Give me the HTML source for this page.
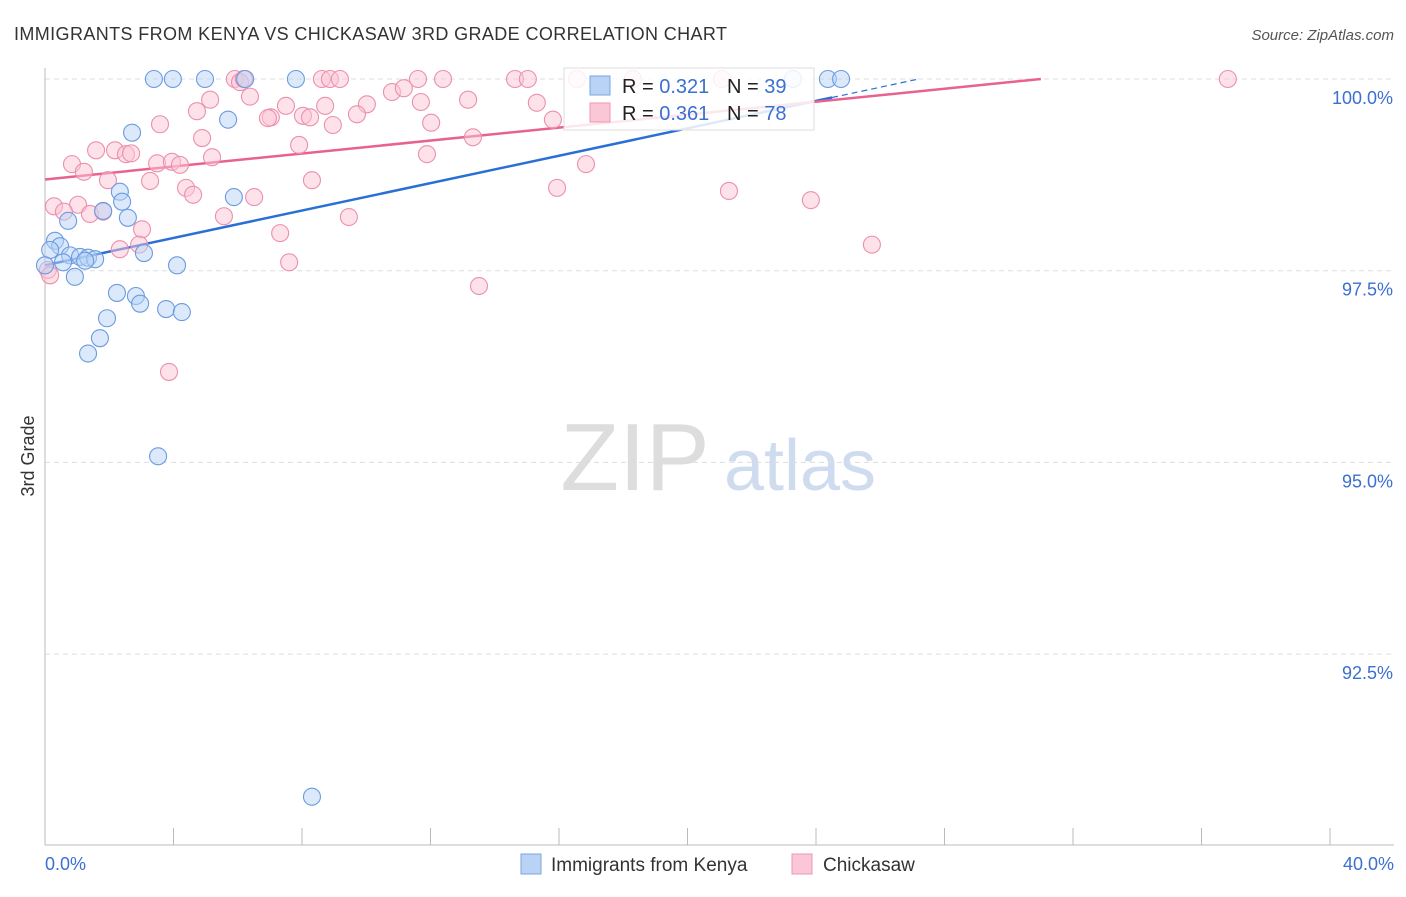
<!DOCTYPE html>
<html><head><meta charset="utf-8"><style>
body{margin:0;background:#fff;font-family:"Liberation Sans",sans-serif;}
svg text{font-family:"Liberation Sans",sans-serif;}
</style></head><body>
<svg id="chart" width="1406" height="892" xmlns="http://www.w3.org/2000/svg">
<text x="14" y="40" font-size="18" fill="#333" textLength="713">IMMIGRANTS FROM KENYA VS CHICKASAW 3RD GRADE CORRELATION CHART</text>
<text x="1394" y="40" font-size="15" fill="#555" font-style="italic" text-anchor="end">Source: ZipAtlas.com</text>
<text x="34" y="456" font-size="18" fill="#333" text-anchor="middle" transform="rotate(-90 34 456)">3rd Grade</text>
<g><text x="635" y="490" font-size="96" fill="#ddd" text-anchor="middle" font-family="Liberation Serif,serif">ZIP</text><text x="800" y="490" font-size="72" fill="#cfdcf0" text-anchor="middle">atlas</text></g>
<g id="grid"></g><g id="axes"></g><g id="lines"></g><g id="pts"></g>
<g>
<rect x="564" y="68" width="250" height="62" fill="#fff" fill-opacity="0.85" stroke="#ddd"/>
<rect x="590" y="76" width="20" height="19" fill="#b8d3f5" stroke="#7aa6e0"/>
<rect x="590" y="103" width="20" height="19" fill="#fbc6d6" stroke="#ee96b4"/>
<text x="622" y="93" font-size="20" fill="#222">R = <tspan fill="#3b6fd0">0.321</tspan></text>
<text x="727" y="93" font-size="20" fill="#222">N = <tspan fill="#3b6fd0">39</tspan></text>
<text x="622" y="120" font-size="20" fill="#222">R = <tspan fill="#3b6fd0">0.361</tspan></text>
<text x="727" y="120" font-size="20" fill="#222">N = <tspan fill="#3b6fd0">78</tspan></text>
</g>
<g>
<rect x="521" y="854" width="20" height="20" fill="#b8d3f5" stroke="#7aa6e0"/>
<text x="551" y="871" font-size="19" fill="#333">Immigrants from Kenya</text>
<rect x="792" y="854" width="20" height="20" fill="#fbc6d6" stroke="#ee96b4"/>
<text x="823" y="871" font-size="19" fill="#333">Chickasaw</text>
</g>
</svg>
<script>
const xTicks=[0,4,8,12,16,20,24,28,32,36,40];
const yTicks=[100,97.5,95,92.5];
const yTickLabels=["100.0%","97.5%","95.0%","92.5%"];
const kenyaX=[3.39,3.98,4.98,6.23,7.81,23.28,24.37,24.78,5.70,2.71,2.33,5.88,2.40,1.81,2.58,0.72,0.31,0.47,0.16,0.78,1.09,1.34,1.56,1.25,0.56,3.08,4.11,0.93,2.24,2.83,2.96,3.77,4.26,1.93,1.71,1.34,3.52,8.31,0];
const kenyaY=[100,100,100,100,100,100,100,100,99.47,99.30,98.53,98.46,98.40,98.28,98.19,98.15,97.89,97.82,97.77,97.70,97.68,97.67,97.65,97.63,97.61,97.73,97.57,97.42,97.21,97.17,97.07,97.00,96.96,96.88,96.62,96.42,95.08,90.64,97.57];
const chickX=[5.91,6.07,6.19,8.62,8.87,9.18,11.61,12.39,14.63,15.03,16.56,18.30,21.07,36.82,6.38,5.14,7.50,8.72,10.02,10.80,11.17,11.70,13.17,15.31,4.73,7.03,6.94,8.03,8.25,9.71,8.96,12.02,15.81,3.58,4.89,7.91,13.32,1.59,2.18,2.52,2.68,5.20,11.89,0.84,1.21,3.49,3.95,4.20,16.84,1.96,3.27,8.31,4.39,4.61,15.94,21.29,23.84,6.51,0.28,1.03,0.59,1.40,1.81,5.57,9.46,3.02,7.32,2.33,2.93,25.74,7.60,13.51,3.86,0.09,0.16];
const chickY=[100,99.96,100,100,100,100,100,100,100,100,100,100,100,100,99.77,99.73,99.65,99.65,99.67,99.83,99.88,99.70,99.73,99.69,99.58,99.50,99.49,99.52,99.50,99.54,99.40,99.43,99.47,99.41,99.23,99.14,99.24,99.07,99.07,99.02,99.03,98.98,99.02,98.89,98.79,98.90,98.92,98.88,98.89,98.68,98.67,98.68,98.58,98.49,98.58,98.54,98.42,98.46,98.34,98.36,98.27,98.24,98.27,98.21,98.20,98.04,97.99,97.78,97.84,97.84,97.61,97.30,96.18,97.51,97.44];
const kenyaTrend=[[0,97.57],[27.2,100]];
const chickTrend=[[0,98.69],[31,100]];
const X=v=>45+v/40*1285;
const Y=v=>79+(100-v)/2.5*191.7;
const NS="http://www.w3.org/2000/svg";
function mk(t,a,p){const e=document.createElementNS(NS,t);for(const k in a)e.setAttribute(k,a[k]);p.appendChild(e);return e;}
const grid=document.getElementById('grid'),axes=document.getElementById('axes'),lines=document.getElementById('lines'),pts=document.getElementById('pts');
yTicks.forEach((t,i)=>{
 const g=mk('line',{x1:45,x2:1394,y1:Y(t),y2:Y(t),stroke:'#ddd','stroke-dasharray':'5,4'},grid);
 
 
 const l=mk('text',{x:1393,y:Y(t)+25,'font-size':18,fill:'#3b6fd0','text-anchor':'end'},axes);
 l.textContent=yTickLabels[i];
 
 
});
const ax=mk('line',{x1:45,x2:1394,y1:845,y2:845,stroke:'#bbb'},axes);


const ay=mk('line',{x1:45,x2:45,y1:68,y2:845,stroke:'#bbb'},axes);


xTicks.forEach(t=>{
 const e=mk('line',{x1:X(t),x2:X(t),y1:828,y2:845,stroke:'#bbb'},axes);
 
 
});
[[0,'start'],[40,'end']].forEach(([t,a])=>{
 const l=mk('text',{x:t?1394:45,y:870,'font-size':18,fill:'#3b6fd0','text-anchor':a},axes);
 l.textContent=t.toFixed(1)+'%';
 
 
});
function dots(xs,ys,fill,stroke,name){xs.forEach((x,i)=>{
 const c=mk('circle',{cx:X(x),cy:Y(ys[i]),r:8.5,fill:fill,'fill-opacity':0.5,stroke:stroke,'stroke-width':1.1},pts);
 
 
});}
dots(chickX,chickY,'#fbc6d6','#ec8fae','chickasaw-point');
dots(kenyaX,kenyaY,'#b8d3f5','#6b9be0','kenya-point');
const kx=24.5;
const ky=kenyaTrend[0][1]+(kenyaTrend[1][1]-kenyaTrend[0][1])*kx/kenyaTrend[1][0];
const k1=mk('line',{x1:X(kenyaTrend[0][0]),y1:Y(kenyaTrend[0][1]),x2:X(kx),y2:Y(ky),stroke:'#2a6fd6','stroke-width':2.5},lines);


const k2=mk('line',{x1:X(kx),y1:Y(ky),x2:X(kenyaTrend[1][0]),y2:Y(kenyaTrend[1][1]),stroke:'#2a6fd6','stroke-width':1.2,'stroke-dasharray':'6,4'},lines);


const c1=mk('line',{x1:X(chickTrend[0][0]),y1:Y(chickTrend[0][1]),x2:X(chickTrend[1][0]),y2:Y(chickTrend[1][1]),stroke:'#e8628f','stroke-width':2.5},lines);


</script>
</body></html>
